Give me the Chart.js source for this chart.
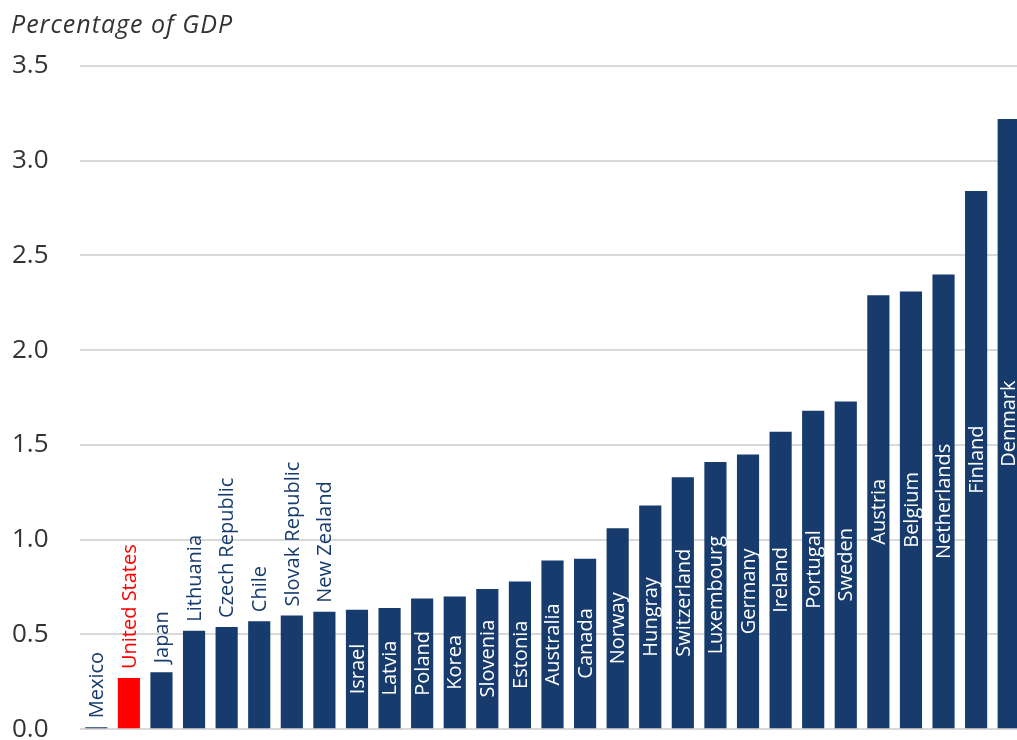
<!DOCTYPE html>
<html><head><meta charset="utf-8">
<script src="https://cdn.jsdelivr.net/npm/chart.js@4"></script>
<style>
html,body{margin:0;padding:0;overflow:hidden;background:#fff}
#wrap{width:1025px;height:740px;position:relative}
</style>
</head><body>
<div id="wrap"><canvas id="c"></canvas></div>
<script>
const countries = ['Mexico','United States','Japan','Lithuania','Czech Republic','Chile','Slovak Republic','New Zealand','Israel','Latvia','Poland','Korea','Slovenia','Estonia','Australia','Canada','Norway','Hungray','Switzerland','Luxembourg','Germany','Ireland','Portugal','Sweden','Austria','Belgium','Netherlands','Finland','Denmark'];
const values = [0.01,0.27,0.30,0.52,0.54,0.57,0.60,0.62,0.63,0.64,0.69,0.70,0.74,0.78,0.89,0.90,1.06,1.18,1.33,1.41,1.45,1.57,1.68,1.73,2.29,2.31,2.40,2.84,3.22];
const highlighted = 'United States';
const yMin = 0, yMax = 3.5, yStep = 0.5;
const titleText = 'Percentage of GDP';
const insideMinValue = 0.625;

const NAVY = '#163b6c', RED = '#ff0000';
const LABEL_FONT = '20px "Open Sans"';

const labelPlugin = {
  id: 'barLabels',
  afterDatasetsDraw(chart) {
    const ctx = chart.ctx;
    const meta = chart.getDatasetMeta(0);
    ctx.save();
    ctx.font = LABEL_FONT;
    meta.data.forEach((bar, i) => {
      const name = countries[i];
      const inside = values[i] >= insideMinValue;
      ctx.save();
      if (inside) {
        ctx.translate(bar.x, (bar.y + bar.base) / 2);
        ctx.rotate(-Math.PI / 2);
        ctx.textAlign = 'center';
        ctx.fillStyle = '#ffffff';
      } else {
        ctx.translate(bar.x, bar.y - 9);
        ctx.rotate(-Math.PI / 2);
        ctx.textAlign = 'left';
        ctx.fillStyle = name === highlighted ? RED : NAVY;
      }
      ctx.textBaseline = 'middle';
      ctx.fillText(name, 0, 1);
      ctx.restore();
    });
    ctx.restore();
  }
};

const titlePlugin = {
  id: 'topTitle',
  afterDraw(chart) {
    const ctx = chart.ctx;
    ctx.save();
    ctx.font = 'italic 25px "Open Sans"';
    ctx.fillStyle = '#333333';
    ctx.textAlign = 'left';
    ctx.textBaseline = 'middle';
    if ('letterSpacing' in ctx) ctx.letterSpacing = '1px';
    ctx.fillText(titleText, 11, 26);
    ctx.restore();
  }
};

new Chart(document.getElementById('c'), {
  type: 'bar',
  data: {
    labels: countries,
    datasets: [{
      data: values,
      backgroundColor: countries.map(c => c === highlighted ? RED : NAVY),
      borderWidth: 0,
      categoryPercentage: 1,
      barPercentage: 0.68
    }]
  },
  options: {
    responsive: true,
    maintainAspectRatio: false,
    animation: false,
    layout: { padding: { top: 66, left: 12, right: 0, bottom: 0 } },
    plugins: { legend: { display: false }, tooltip: { enabled: false }, title: { display: false } },
    scales: {
      x: { display: false },
      y: {
        min: yMin, max: yMax,
        afterFit(s) { s.width = 68; },
        border: { display: false },
        grid: { color: '#d9d9d9', lineWidth: 2, drawTicks: false },
        ticks: {
          stepSize: yStep,
          crossAlign: 'far',
          color: '#333333',
          font: { family: 'Open Sans', size: 26, lineHeight: 0.6 },
          callback: v => Number(v).toFixed(1)
        }
      }
    }
  },
  plugins: [labelPlugin, titlePlugin]
});
</script>
</body></html>
